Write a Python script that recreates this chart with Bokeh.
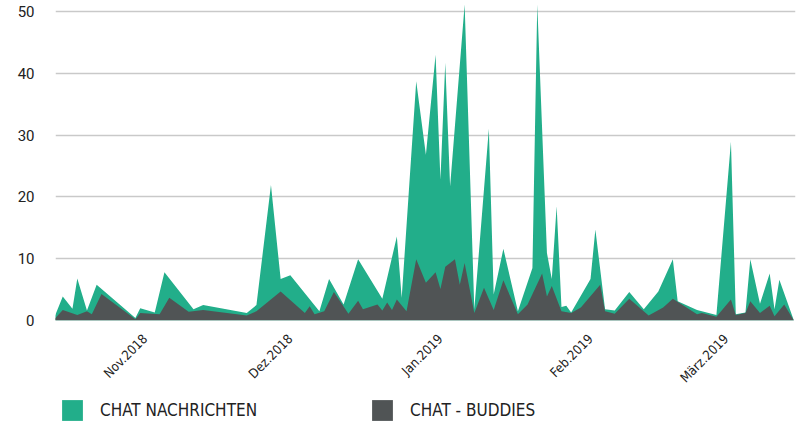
import math
import pandas as pd
from bokeh.plotting import figure
from bokeh.layouts import column
from bokeh.models import Range1d, FixedTicker, Legend, LegendItem, ColumnDataSource
from bokeh.embed import file_html
from bokeh.resources import INLINE

# ---- data ----
nachrichten_dates = [
    "2018-10-13", "2018-10-15", "2018-10-17", "2018-10-18", "2018-10-20", "2018-10-22",
    "2018-10-30", "2018-10-31", "2018-11-03", "2018-11-05", "2018-11-11", "2018-11-13",
    "2018-11-22", "2018-11-24", "2018-11-27", "2018-11-29", "2018-12-01", "2018-12-07",
    "2018-12-09", "2018-12-12", "2018-12-15", "2018-12-20", "2018-12-23", "2018-12-24",
    "2018-12-27", "2018-12-29", "2018-12-31", "2019-01-01", "2019-01-02", "2019-01-03",
    "2019-01-06", "2019-01-08", "2019-01-11", "2019-01-12", "2019-01-14", "2019-01-17",
    "2019-01-20", "2019-01-21", "2019-01-23", "2019-01-24", "2019-01-25", "2019-01-26",
    "2019-01-27", "2019-01-28", "2019-02-01", "2019-02-02", "2019-02-04", "2019-02-06",
    "2019-02-09", "2019-02-12", "2019-02-15", "2019-02-18", "2019-02-19", "2019-02-23",
    "2019-02-27", "2019-03-02", "2019-03-03", "2019-03-05", "2019-03-06", "2019-03-08",
    "2019-03-10", "2019-03-11", "2019-03-12", "2019-03-15",
]
nachrichten_values = [
    0, 3.9, 1.9, 6.8, 1.6, 5.8,
    0.4, 2.0, 1.3, 7.8, 1.8, 2.5,
    1.2, 2.5, 21.9, 6.7, 7.3, 1.5,
    6.7, 2.6, 9.9, 3.5, 13.6, 3.7,
    38.7, 26.8, 43.0, 22.8, 41.7, 21.7,
    51.1, 1.8, 31.0, 4.2, 11.6, 1.5,
    8.5, 51.1, 10.9, 6.7, 18.5, 2.2,
    2.4, 1.3, 6.7, 14.7, 1.8, 1.6,
    4.6, 1.8, 4.7, 9.9, 3.1, 1.7,
    0.9, 28.9, 1.0, 1.3, 9.9, 2.7,
    7.6, 1.8, 6.6, 0,
]

buddies_dates = [
    "2018-10-13", "2018-10-15", "2018-10-18", "2018-10-20", "2018-10-21", "2018-10-23",
    "2018-10-30", "2018-10-31", "2018-11-04", "2018-11-06", "2018-11-10", "2018-11-13",
    "2018-11-22", "2018-11-24", "2018-11-29", "2018-12-04", "2018-12-05", "2018-12-06",
    "2018-12-08", "2018-12-10", "2018-12-13", "2018-12-15", "2018-12-16", "2018-12-19",
    "2018-12-20", "2018-12-21", "2018-12-22", "2018-12-23", "2018-12-25", "2018-12-27",
    "2018-12-29", "2018-12-31", "2019-01-01", "2019-01-02", "2019-01-04", "2019-01-05",
    "2019-01-06", "2019-01-08", "2019-01-10", "2019-01-12", "2019-01-14", "2019-01-17",
    "2019-01-19", "2019-01-22", "2019-01-23", "2019-01-24", "2019-01-26", "2019-01-28",
    "2019-01-30", "2019-02-03", "2019-02-04", "2019-02-06", "2019-02-09", "2019-02-13",
    "2019-02-16", "2019-02-18", "2019-02-23", "2019-02-24", "2019-02-27", "2019-03-02",
    "2019-03-03", "2019-03-05", "2019-03-06", "2019-03-08", "2019-03-10", "2019-03-11",
    "2019-03-13", "2019-03-15",
]
buddies_values = [
    0, 1.7, 0.9, 1.5, 1.0, 4.3,
    0.2, 1.2, 1.0, 3.7, 1.4, 1.7,
    0.8, 1.5, 4.7, 1.2, 2.3, 1.0,
    1.5, 4.6, 1.1, 3.2, 1.8, 2.6,
    1.6, 2.9, 1.7, 3.4, 1.5, 9.9,
    6.1, 7.8, 5.1, 8.7, 9.9, 5.8,
    9.3, 1.2, 5.3, 1.7, 6.5, 1.0,
    2.6, 7.6, 3.9, 5.6, 1.5, 1.2,
    2.1, 5.8, 1.5, 1.1, 3.5, 0.8,
    2.1, 3.5, 1.0, 1.2, 0.6, 3.4,
    0.9, 1.2, 3.1, 1.2, 2.4, 0.7,
    2.6, 0,
]

tick_dates = ["2018-11-01", "2018-12-01", "2019-01-01", "2019-02-01", "2019-03-01"]
tick_labels = ["Nov.2018", "Dez.2018", "Jan.2019", "Feb.2019", "März.2019"]
y_ticks = [0, 10, 20, 30, 40, 50]

series_labels = ["CHAT NACHRICHTEN", "CHAT - BUDDIES"]

GREEN = "#22ae8a"
GRAY = "#505455"
LABEL_FONT = "DejaVu Sans Condensed"

src_n = ColumnDataSource(dict(x=pd.to_datetime(nachrichten_dates), y=nachrichten_values))
src_b = ColumnDataSource(dict(x=pd.to_datetime(buddies_dates), y=buddies_values))

# ---- main chart ----
p = figure(
    width=798, height=393,
    x_axis_type="datetime",
    output_backend="svg",
    toolbar_location=None,
    x_range=Range1d(pd.Timestamp("2018-10-13 12:00"), pd.Timestamp("2019-03-15 08:00")),
    y_range=Range1d(0, 51.6),
    min_border_left=55, min_border_right=3, min_border_top=1, min_border_bottom=72,
)
p.outline_line_color = None
p.background_fill_color = "white"
p.border_fill_color = "white"

r1 = p.varea(x="x", y1=0, y2="y", source=src_n, fill_color=GREEN)
r2 = p.varea(x="x", y1=0, y2="y", source=src_b, fill_color=GRAY)

p.xgrid.visible = False
p.ygrid.grid_line_color = "#c9c9c9"
p.ygrid.grid_line_width = 1.5

p.yaxis.ticker = FixedTicker(ticks=y_ticks)
p.yaxis.axis_line_color = None
p.yaxis.major_tick_line_color = None
p.yaxis.minor_tick_line_color = None
p.yaxis.major_label_text_font = "Roboto"
p.yaxis.major_label_text_font_size = "15px"
p.yaxis.major_label_text_color = "#222222"
p.yaxis.major_label_standoff = 15

tick_ms = [pd.Timestamp(d).value / 1e6 for d in tick_dates]
p.xaxis.ticker = FixedTicker(ticks=tick_ms)
p.xaxis.major_label_overrides = {t: lab for t, lab in zip(tick_ms, tick_labels)}
p.xaxis.axis_line_color = None
p.xaxis.major_tick_line_color = None
p.xaxis.minor_tick_line_color = None
p.xaxis.major_label_orientation = math.pi / 4
p.xaxis.major_label_text_font = LABEL_FONT
p.xaxis.major_label_text_font_size = "13px"
p.xaxis.major_label_text_color = "#222222"
p.xaxis.major_label_standoff = 10

# ---- legend strip (series drawn out of view; only their swatches show) ----
lg = figure(
    width=798, height=29,
    output_backend="svg",
    toolbar_location=None,
    x_axis_location=None, y_axis_location=None,
    x_range=Range1d(0, 1), y_range=Range1d(1000, 1001),
    min_border_left=0, min_border_right=0, min_border_top=0, min_border_bottom=0,
)
lg.grid.visible = False
lg.outline_line_color = None
lg.border_fill_color = "white"
lg.background_fill_color = "white"

swatch_n = lg.varea(x="x", y1=0, y2="y", source=src_n, fill_color=GREEN)
swatch_b = lg.varea(x="x", y1=0, y2="y", source=src_b, fill_color=GRAY)

legend = Legend(
    items=[LegendItem(label=lab, renderers=[r]) for lab, r in zip(series_labels, [swatch_n, swatch_b])],
    location=(4, -1),
    orientation="horizontal",
    glyph_width=26, glyph_height=26,
    label_standoff=15,
    spacing=112,
    padding=0, margin=0,
    background_fill_alpha=0,
    border_line_alpha=0,
    label_text_font=LABEL_FONT,
    label_text_font_size="17px",
    label_text_color="#222222",
)
lg.add_layout(legend)

layout = column(p, lg, spacing=0)

open("out.html", "w").write(file_html(layout, INLINE))
